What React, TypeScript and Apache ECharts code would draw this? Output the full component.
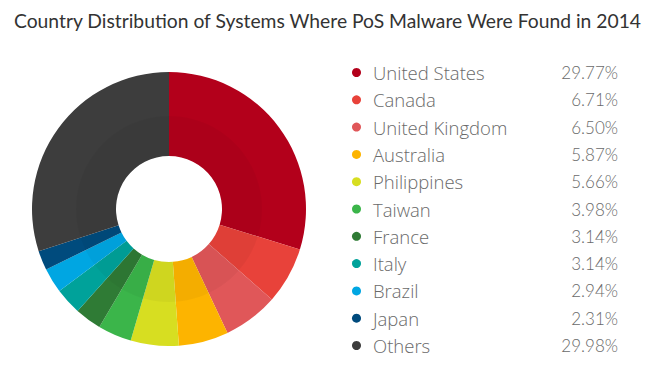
import React, { useEffect, useRef } from "react";
import * as echarts from "echarts";

const countries = [
  "United States",
  "Canada",
  "United Kingdom",
  "Australia",
  "Philippines",
  "Taiwan",
  "France",
  "Italy",
  "Brazil",
  "Japan",
  "Others",
];
const shares = [29.77, 6.71, 6.5, 5.87, 5.66, 3.98, 3.14, 3.14, 2.94, 2.31, 29.98];
const shareLabels = ["29.77%", "6.71%", "6.50%", "5.87%", "5.66%", "3.98%", "3.14%", "3.14%", "2.94%", "2.31%", "29.98%"];
const colors = [
  "#b3001b",
  "#e8423a",
  "#e05759",
  "#fdb400",
  "#d7de21",
  "#3bb54a",
  "#2f7b35",
  "#00a29a",
  "#00a6e2",
  "#004b7d",
  "#3d3d3d",
];
const title = "Country Distribution of Systems Where PoS Malware Were Found in 2014";

export default function App() {
  const ref = useRef<HTMLDivElement>(null);
  useEffect(() => {
    if (!ref.current) return;
    const chart = echarts.init(ref.current, undefined, { renderer: "svg" });
    const labelMap: Record<string, string> = {};
    countries.forEach((c, i) => (labelMap[c] = shareLabels[i]));
    chart.setOption({
      animation: false,
      backgroundColor: "#ffffff",
      title: {
        text: title,
        left: 9,
        top: 6,
        textStyle: {
          fontFamily: "Lato, 'Open Sans', sans-serif",
          fontSize: 19.3,
          fontWeight: "normal",
          color: "#333333",
        },
      },
      legend: {
        orient: "vertical",
        left: 347,
        top: 58,
        icon: "circle",
        itemWidth: 9,
        itemHeight: 9,
        itemGap: 8.3,
        selectedMode: false,
        data: countries,
        formatter: (name: string) => `{n|${name}}{v|${labelMap[name]}}`,
        textStyle: {
          fontFamily: "'Open Sans', sans-serif",
          fontSize: 17,
          color: "#666666",
          rich: {
            n: {
              fontFamily: "'Open Sans', sans-serif",
              fontSize: 18.5,
              fontWeight: 300,
              color: "#6a6a6a",
              width: 180,
              lineHeight: 20,
              padding: [0, 0, 0, 7],
            },
            v: {
              fontFamily: "Lato, 'Open Sans', sans-serif",
              fontSize: 17,
              fontWeight: 300,
              color: "#6a6a6a",
              width: 65,
              align: "right",
              lineHeight: 20,
            },
          },
        },
      },
      series: [
        {
          type: "pie",
          center: [169, 209],
          radius: [53, 137],
          startAngle: 90,
          clockwise: true,
          silent: true,
          label: { show: false },
          labelLine: { show: false },
          data: countries.map((c, i) => ({
            name: c,
            value: shares[i],
            itemStyle: { color: colors[i] },
          })),
        },
        {
          type: "pie",
          center: [169, 209],
          radius: [53, 93],
          silent: true,
          label: { show: false },
          labelLine: { show: false },
          data: [{ name: "", value: 1, itemStyle: { color: "rgba(0,0,0,0.035)" } }],
        },
      ],
    });
    return () => chart.dispose();
  }, []);
  return <div ref={ref} style={{ width: 650, height: 371, position: "absolute", left: 0, top: 0 }} />;
}
